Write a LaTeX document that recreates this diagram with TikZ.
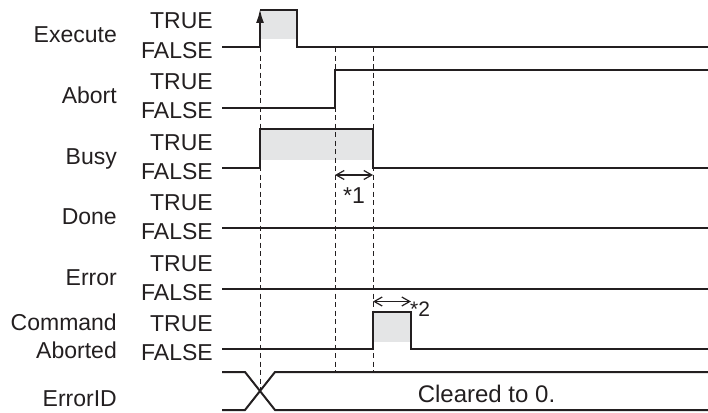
\documentclass[tikz,border=0pt]{standalone}
\usepackage{fontspec}
\setmainfont{Liberation Sans}
\usetikzlibrary{arrows.meta}
\definecolor{sig}{HTML}{231F20}
\definecolor{fillg}{HTML}{E4E5E6}
\begin{document}
\begin{tikzpicture}[x=1pt,y=-1pt,
  sigline/.style={line width=2pt, draw=sig, line join=miter},
  guide/.style={line width=1pt, draw=sig, dash pattern=on 5pt off 3.5pt},
  lvl/.style={font=\fontsize{23}{27}\selectfont, anchor=base east, inner sep=0pt, text=sig},
  sname/.style={lvl},
  note/.style={font=\fontsize{23}{27}\selectfont, anchor=base west, inner sep=0pt, text=sig},
  dimarrow/.style={line width=1.2pt, draw=sig, {Straight Barb[length=8pt,width=9pt]}-{Straight Barb[length=8pt,width=9pt]}},
  pulse/.style={fill=fillg, draw=none}
]
\useasboundingbox (0,0) rectangle (708,412);

% signal names
\node[sname] (nExec) at (117,43) {Execute};
\node[sname] (nAbort) at (117,103.5) {Abort};
\node[sname] (nBusy) at (117,164) {Busy};
\node[sname] (nDone) at (117,224.5) {Done};
\node[sname] (nErr) at (117,285) {Error};
\node[sname] (nCmd) at (117,330) {Command};
\node[sname] (nAbd) at (117,358.5) {Aborted};
\node[sname] (nEID) at (117,406.5) {ErrorID};

% level labels
\foreach \L/\n in {47/a,107.5/b,168/c,228.5/d,289/e,349.5/f}{
  \node[lvl] (t\n) at (213,\L-18) {TRUE};
  \node[lvl] (f\n) at (213,\L+11.3) {FALSE};
}

% fills
\fill[pulse] (260,10) rectangle (297,39);
\fill[pulse] (260,129) rectangle (373,160);
\fill[pulse] (373,312) rectangle (411,342);

% coordinates
\coordinate (d1t) at (260,47);
\coordinate (d1b) at (260,391);
\coordinate (d2t) at (335,47);
\coordinate (d2b) at (335,372);
\coordinate (d3t) at (373,47);
\coordinate (d3b) at (373,372);

% guide lines
\draw[guide] (d1t) -- (d1b);
\draw[guide] (d2t) -- (d2b);
\draw[guide] (d3t) -- (d3b);

% Execute
\draw[sigline] (222,47) -- (260,47) (260,10) -- (297,10) -- (297,47) -- (708,47);
\draw[sigline,-{Latex[length=14pt,width=8pt]}] (260,48) -- (260,9);
% Abort
\draw[sigline] (222,108) -- (335,108) -- (335,70) -- (708,70);
% Busy
\draw[sigline] (222,168) -- (260,168) -- (260,129) -- (373,129) -- (373,168) -- (708,168);
% Done
\draw[sigline] (222,228) -- (708,228);
% Error
\draw[sigline] (222,289) -- (708,289);
% CommandAborted
\draw[sigline] (222,349) -- (373,349) -- (373,312) -- (411,312) -- (411,349) -- (708,349);
% ErrorID
\draw[sigline] (222,372) -- (245,372) -- (275,410) -- (708,410);
\draw[sigline] (222,410) -- (245,410) -- (275,372) -- (708,372);

% dimension arrows
\coordinate (a1l) at (335,175);
\coordinate (a1r) at (373,175);
\draw[dimarrow] (a1l) -- (a1r);
\node[note] (n1) at (343,203) {*1};
\coordinate (a2l) at (373,301.5);
\coordinate (a2r) at (411,301.5);
\draw[dimarrow] (a2l) -- (a2r);
\node[note, font=\fontsize{21}{25}\selectfont] (n2) at (410,316.5) {*2};

\node[font=\fontsize{24}{28}\selectfont, anchor=base, inner sep=0pt, text=sig] (clr) at (486.5,402) {Cleared to 0.};
\end{tikzpicture}
\end{document}
